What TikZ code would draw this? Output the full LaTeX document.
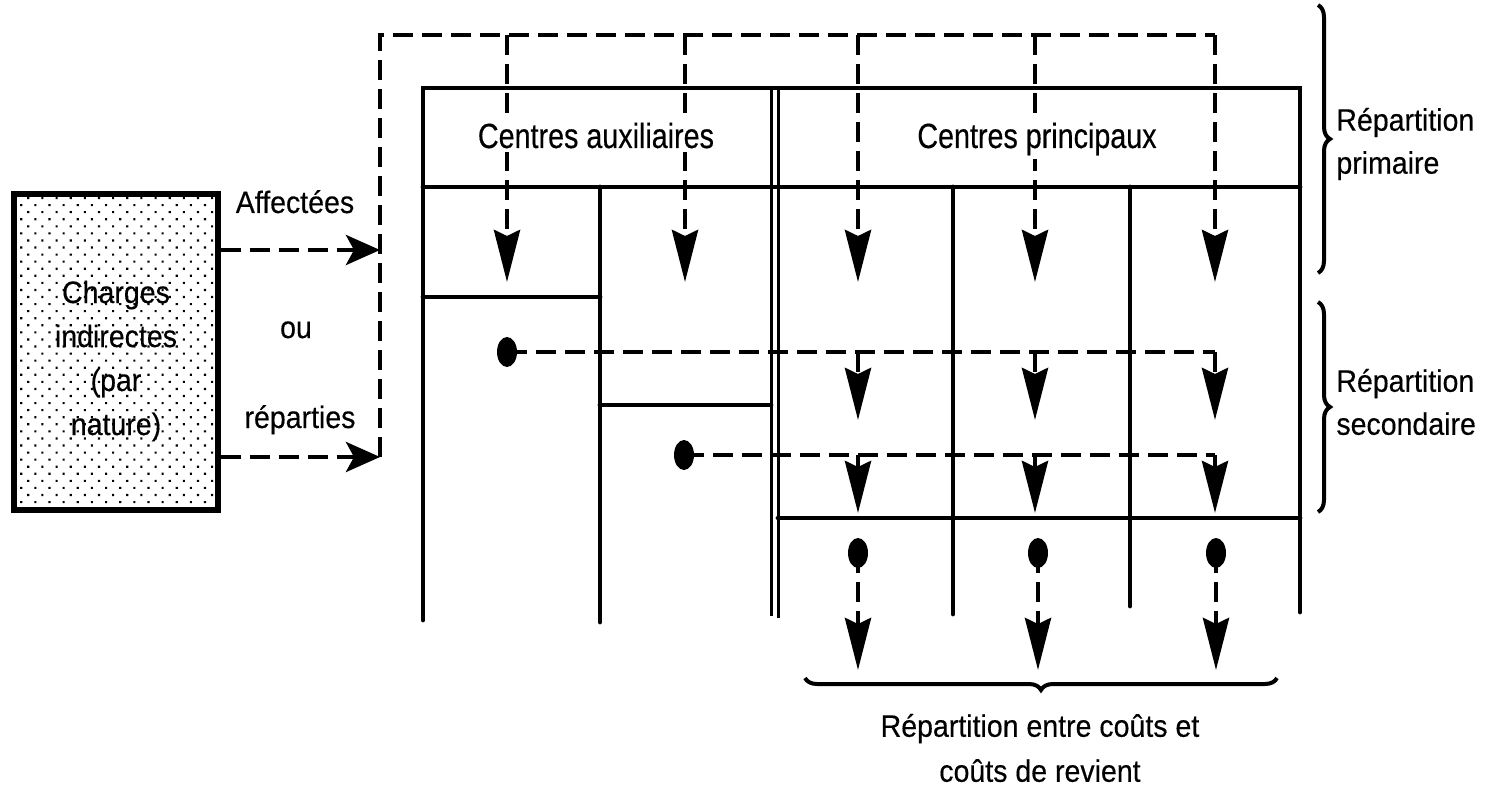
\documentclass[tikz,border=0pt]{standalone}
\usepackage{fontspec}
\setmainfont{Liberation Sans}[FakeStretch=0.92,FakeBold=0.35]
\newfontfamily\headfont{Liberation Sans}[FakeStretch=0.82,FakeBold=0.35]
\usetikzlibrary{arrows.meta,patterns.meta,decorations.pathreplacing,shapes.geometric}

\begin{document}
\begin{tikzpicture}[x=0.5pt,y=-0.5pt,
  tablerule/.style={line width=2.4pt, line cap=round},
  thinrule/.style={line width=1.5pt},
  flowline/.style={line width=2.3pt, dash pattern=on 10pt off 4.5pt},
  droparrow/.style={flowline, -{Stealth[length=26pt,width=13pt,inset=3pt]}},
  feedarrow/.style={flowline, -{Stealth[length=17pt,width=15pt,inset=4pt]}},
  blobdot/.style={ellipse, fill=black, inner sep=0pt, minimum width=10pt, minimum height=15pt},
  sidelabel/.style={font=\fontsize{15.5}{21.5}\selectfont, inner sep=0pt},
  headtext/.style={font=\headfont\fontsize{17.5}{21}\selectfont, fill=white, inner sep=2pt},
  bracestyle/.style={line width=2pt, decorate},
]
\useasboundingbox (0,0) rectangle (1496,792);

% source box: indirect charges
\node[draw, line width=2.6pt, pattern={Dots[distance=5pt,radius=0.75pt,angle=45]},
      minimum width=102pt, minimum height=158pt, inner sep=0pt] (box) at (116,352) {};
\node[align=center, inner sep=0pt, font=\fontsize{15.5}{22}\selectfont] (boxtext) at (116,361)
  {Charges\\indirectes\\(par\\nature)};

% labels between the box and the distribution network
\node[sidelabel, anchor=base] (aff) at (295,213) {Affectées};
\node[sidelabel, anchor=base] (ou) at (296,338) {ou};
\node[sidelabel, anchor=base] (rep) at (300,428) {réparties};

% table of analysis centres
\draw[tablerule] (423,620) -- (423,88) -- (1300,88) -- (1300,612);
\draw[tablerule] (423,187) -- (1300,187);
\draw[thinrule] (771,88) -- (771,616);
\draw[thinrule] (778,88) -- (778,618);
\draw[tablerule] (600,187) -- (600,622);
\draw[tablerule] (423,297) -- (600,297);
\draw[tablerule] (600,405) -- (771,405);
\draw[tablerule] (953,187) -- (953,614);
\draw[tablerule] (1130,187) -- (1130,606);
\draw[tablerule] (778,518) -- (1300,518);

% primary distribution: feed lines and top collector
\coordinate (in1) at (380,250);
\coordinate (in2) at (380,457);
\coordinate (tl) at (380,35);
\coordinate (tr) at (1215,35);
\draw[feedarrow] (box.east |- in1) -- (in1);
\draw[feedarrow] (box.east |- in2) -- (in2);
\draw[flowline] (in2) -- (tl) -- (tr);
\foreach \x/\n in {507/a,685/b,858/c,1035/d,1215/e}{
  \coordinate (top\n) at (\x,35);
  \coordinate (tip\n) at (\x,282);
  \draw[droparrow] (top\n) -- (tip\n);
}

% column headings
\node[headtext, anchor=base] (aux) at (596,148) {Centres auxiliaires};
\node[headtext, anchor=base] (pri) at (1037,148) {Centres principaux};

% secondary distribution from the auxiliary centres
\node[blobdot] (s1) at (507,352) {};
\node[blobdot] (s2) at (684,455) {};
\coordinate (s1end) at (1215,352);
\coordinate (s2end) at (1215,455);
\draw[flowline] (s1.center) -- (s1end);
\draw[flowline] (s2.center) -- (s2end);
\foreach \x/\n in {858/c,1035/d,1215/e}{
  \coordinate (ra\n) at (\x,352);
  \coordinate (rb\n) at (\x,420);
  \coordinate (qa\n) at (\x,455);
  \coordinate (qb\n) at (\x,513);
  \draw[droparrow] (ra\n) -- (rb\n);
  \draw[droparrow] (qa\n) -- (qb\n);
}

% transfer of principal centres to costs
\foreach \x/\n in {858/c,1038/d,1216/e}{
  \node[blobdot] (b\n) at (\x,553) {};
  \coordinate (bt\n) at (\x,670);
  \draw[droparrow] (b\n.center) -- (bt\n);
}

% braces and their captions
\draw[bracestyle, decoration={brace, amplitude=6pt}] (1318,5) -- (1318,273);
\draw[bracestyle, decoration={brace, amplitude=6pt}] (1318,302) -- (1318,512);
\draw[bracestyle, decoration={brace, mirror, amplitude=6pt}] (805,678) -- (1277,678);

\node[sidelabel, align=left, anchor=west] (prim) at (1336,144) {Répartition\\primaire};
\node[sidelabel, align=left, anchor=west] (sec) at (1336,402) {Répartition\\secondaire};
\node[align=center, inner sep=0pt, font=\fontsize{15.5}{22.5}\selectfont] (costs) at (1040,748)
  {Répartition entre coûts et\\coûts de revient};
\end{tikzpicture}
\end{document}
